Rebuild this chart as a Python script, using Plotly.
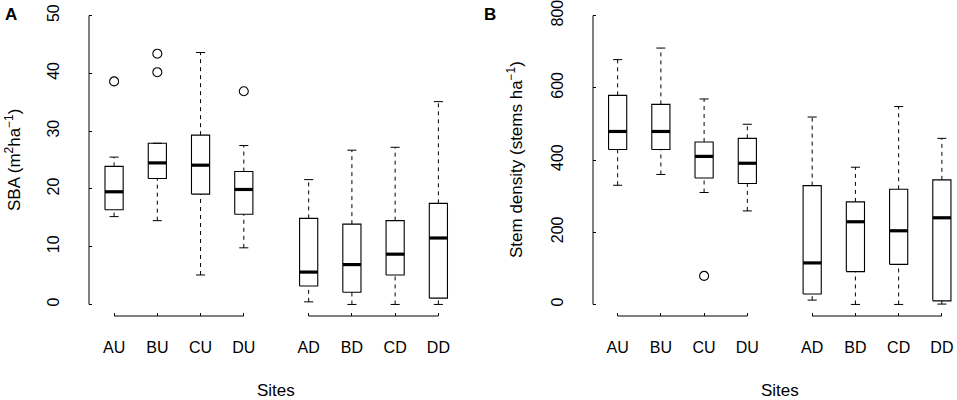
import plotly.graph_objects as go
from plotly.subplots import make_subplots

sites = ["AU", "BU", "CU", "DU", "AD", "BD", "CD", "DD"]
positions = [1, 2, 3, 4, 5.5, 6.5, 7.5, 8.5]

# panel A - stand basal area
sba_lower = [15.2, 14.5, 5.1, 9.8, 0.45, 0.0, 0.0, 0.0]
sba_q1 = [16.4, 21.8, 19.1, 15.6, 3.2, 2.1, 5.1, 1.1]
sba_median = [19.5, 24.5, 24.1, 19.9, 5.6, 6.9, 8.7, 11.5]
sba_q3 = [23.9, 27.9, 29.3, 23.0, 14.9, 13.9, 14.5, 17.5]
sba_upper = [25.5, 27.9, 43.6, 27.5, 21.6, 26.7, 27.2, 35.1]
sba_out_site = ["AU", "BU", "BU", "DU"]
sba_out_value = [38.6, 40.2, 43.4, 36.9]

# panel B - stem density
stem_lower = [330, 360, 310, 259, 12, 0, 0, 1]
stem_q1 = [429, 429, 350, 335, 29, 91, 111, 10]
stem_median = [479, 479, 410, 391, 115, 229, 204, 240]
stem_q3 = [579, 554, 450, 460, 329, 284, 319, 345]
stem_upper = [678, 710, 569, 499, 519, 380, 548, 460]
stem_out_site = ["CU"]
stem_out_value = [79]

sba_ticks = [0, 10, 20, 30, 40, 50]
stem_ticks = [0, 200, 400, 600, 800]

W, H = 957, 400
FONT = "Liberation Sans, Arial, sans-serif"
BW = 0.21    # half box width
CW = 0.105   # half staple width


def seg(xs, ys, x, y):
    xs.extend(x + [None])
    ys.extend(y + [None])


def add_panel(fig, col, lower, q1, med, q3, upper, out_site, out_val):
    bx, by, wx, wy, cx, cy, mx, my = [], [], [], [], [], [], [], []
    for p, lo, a, m, b, hi in zip(positions, lower, q1, med, q3, upper):
        seg(bx, by, [p - BW, p + BW, p + BW, p - BW, p - BW], [a, a, b, b, a])
        seg(wx, wy, [p, p], [b, hi])
        seg(wx, wy, [p, p], [lo, a])
        seg(cx, cy, [p - CW, p + CW], [hi, hi])
        seg(cx, cy, [p - CW, p + CW], [lo, lo])
        seg(mx, my, [p - BW, p + BW], [m, m])
    common = dict(mode="lines", hoverinfo="skip", showlegend=False)
    fig.add_trace(go.Scatter(x=wx, y=wy, line=dict(color="black", width=1, dash="4px,4px"), **common), row=1, col=col)
    fig.add_trace(go.Scatter(x=cx, y=cy, line=dict(color="black", width=1), **common), row=1, col=col)
    fig.add_trace(go.Scatter(x=bx, y=by, line=dict(color="black", width=1.1), **common), row=1, col=col)
    fig.add_trace(go.Scatter(x=mx, y=my, line=dict(color="black", width=3.2), **common), row=1, col=col)
    ox = [positions[sites.index(s)] for s in out_site]
    fig.add_trace(go.Scatter(x=ox, y=out_val, mode="markers", hoverinfo="skip", showlegend=False,
                             marker=dict(symbol="circle-open", size=9, color="black", line=dict(width=1.1))),
                  row=1, col=col)


fig = make_subplots(rows=1, cols=2)
add_panel(fig, 1, sba_lower, sba_q1, sba_median, sba_q3, sba_upper, sba_out_site, sba_out_value)
add_panel(fig, 2, stem_lower, stem_q1, stem_median, stem_q3, stem_upper, stem_out_site, stem_out_value)

xcommon = dict(tickvals=positions, ticktext=sites, ticks="inside", ticklen=3, tickwidth=1,
               tickcolor="black", showline=False, showgrid=False, zeroline=False, automargin=False,
               tickfont=dict(size=16, color="black"), ticklabelstandoff=20, ticklabeloverflow="allow")
ycommon = dict(ticks="inside", ticklen=3, tickwidth=1, tickcolor="black", showline=False,
               showgrid=False, zeroline=False, tickangle=-90, automargin=False,
               tickfont=dict(size=16, color="black"), ticklabelstandoff=26, ticklabeloverflow="allow")

fig.update_xaxes(range=[0.42, 9.0], domain=[89 / W, 460 / W], row=1, col=1, **xcommon)
fig.update_xaxes(range=[0.43, 8.85], domain=[593 / W, 1.0], row=1, col=2, **xcommon)
fig.update_yaxes(range=[-2, 52], tickvals=sba_ticks, row=1, col=1, **ycommon)
fig.update_yaxes(range=[-32, 832], tickvals=stem_ticks, row=1, col=2, **ycommon)

ann = dict(showarrow=False, xanchor="center", yanchor="middle")

# R-style axis lines: y spans tick range only, x drawn per site group
for xr, yr, ticks in [("x", "y", sba_ticks), ("x2", "y2", stem_ticks)]:
    line = dict(color="black", width=1)
    fig.add_shape(type="line", xref=xr + " domain", yref=yr, x0=0, x1=0,
                  y0=ticks[0], y1=ticks[-1], line=line)
    for g0, g1 in [(0, 3), (4, 7)]:
        fig.add_shape(type="line", xref=xr, yref=yr + " domain", x0=positions[g0], x1=positions[g1],
                      y0=0, y1=0, line=line)
    fig.add_annotation(text="Sites", xref=xr, yref="paper", x=(positions[0] + positions[-1]) / 2,
                       y=(316 - 390) / 312, font=dict(size=17, color="black"), **ann)

fig.add_annotation(text="SBA (m<sup>2</sup>ha<sup>\u22121</sup>)", xref="paper", yref="paper",
                   x=13 / W, y=(316 - 160) / 312, textangle=-90,
                   font=dict(size=17, color="black"), **ann)
fig.add_annotation(text="Stem density (stems ha<sup>\u22121</sup>)", xref="paper", yref="paper",
                   x=515 / W, y=(316 - 160) / 312, textangle=-90,
                   font=dict(size=17, color="black"), **ann)
fig.add_annotation(text="<b>A</b>", xref="paper", yref="paper", x=11 / W, y=(316 - 15) / 312,
                   font=dict(size=17, color="black"), **ann)
fig.add_annotation(text="<b>B</b>", xref="paper", yref="paper", x=490 / W, y=(316 - 14) / 312,
                   font=dict(size=17, color="black"), **ann)

fig.update_layout(width=W, height=H, margin=dict(l=0, r=0, t=4, b=84),
                  plot_bgcolor="white", paper_bgcolor="white",
                  font=dict(family=FONT, color="black"))

# drop the browser's default body margin so the figure fills the window
fig.write_html("out.html", config={"displayModeBar": False},
               post_script="document.body.style.margin='0px';")
